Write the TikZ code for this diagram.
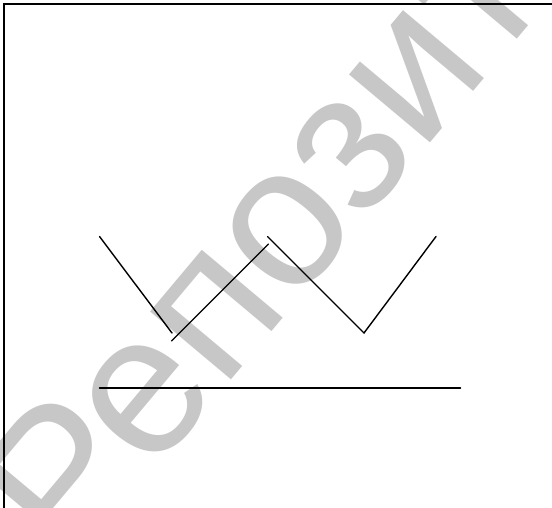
\documentclass[tikz,border=0pt]{standalone}
\usepackage{fontspec}
\newfontfamily\wmfont{Liberation Sans}
\definecolor{wmgray}{gray}{0.78}
\tikzset{
  stroke/.style={draw=black, line width=1.4pt, line cap=round},
  frame/.style={draw=black, line width=1.8pt},
  wm/.style={text=wmgray, font=\wmfont\fontsize{200}{200}\selectfont, inner sep=0pt, rotate=50}
}
\begin{document}
\begin{tikzpicture}[x=1pt,y=-1pt]
\useasboundingbox (0,0) rectangle (552,508);
\clip (0,0) rectangle (552,508);
\fill[white] (0,0) rectangle (552,508);
% watermark
\node[wm, anchor=base west] (wm) at (71,571) {Репозиторий};
% frame
\draw[frame] (3.8,4) rectangle (560,508.4);
% lines
\coordinate (a1) at (99.5,236.5);
\coordinate (a2) at (172,333);
\coordinate (b1) at (171.5,341);
\coordinate (b2) at (268.5,244);
\coordinate (c1) at (267.5,236.5);
\coordinate (c2) at (364,333);
\coordinate (c3) at (436,236.5);
\coordinate (h1) at (99.5,388);
\coordinate (h2) at (460.5,388);
\draw[stroke] (a1) -- (a2);
\draw[stroke] (b1) -- (b2);
\draw[stroke] (c1) -- (c2) -- (c3);
\draw[stroke] (h1) -- (h2);
\end{tikzpicture}
\end{document}
